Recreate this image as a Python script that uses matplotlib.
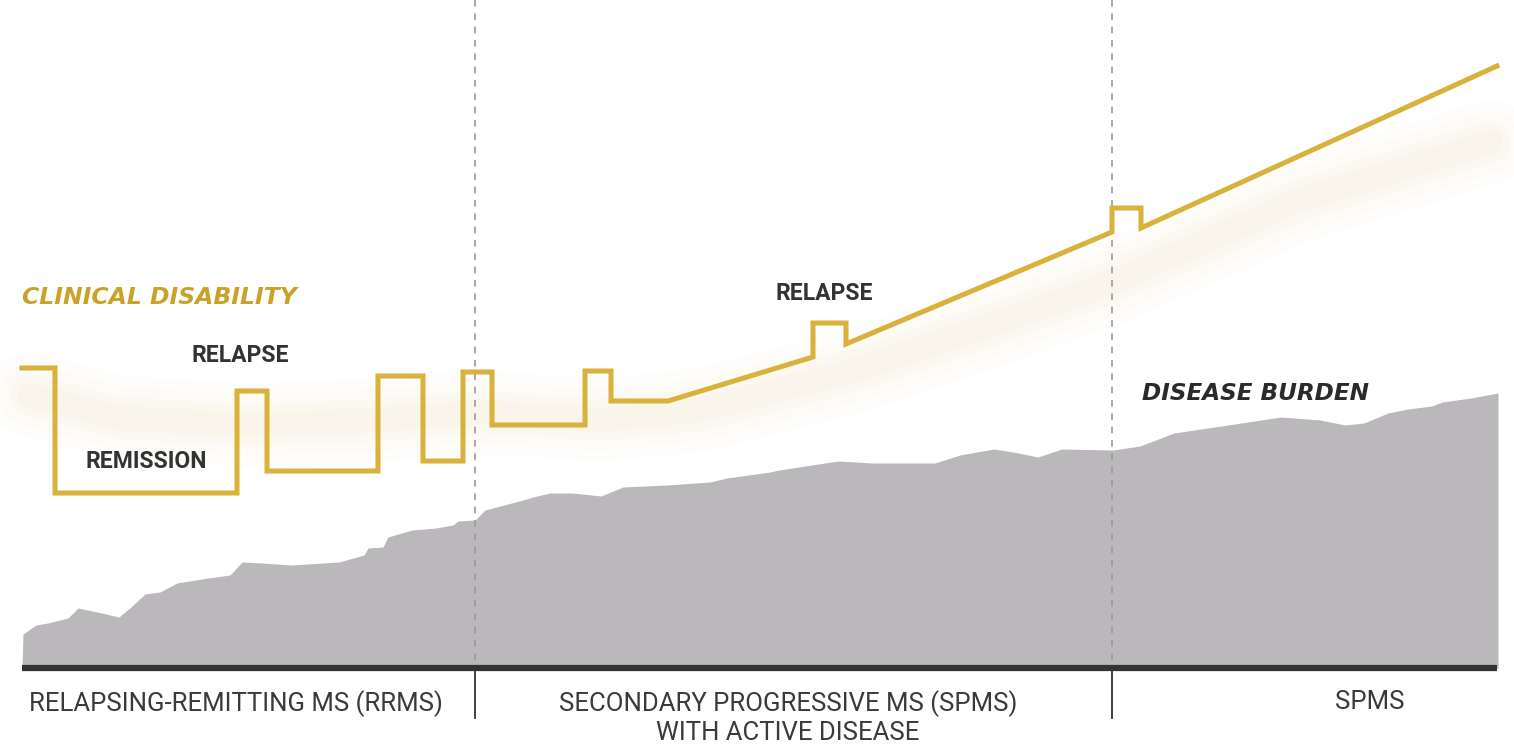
import matplotlib.pyplot as plt
import numpy as np

# everything is laid out in picture coordinates (x right, y down)
W, H = 1514, 746

# clinical disability line (step path)
line_x = [22, 55, 55, 237, 237, 267, 267, 378, 378, 423, 423, 463, 463, 492, 492,
          585, 585, 611, 611, 668, 813, 813, 846, 846, 1112, 1112, 1141, 1141, 1497]
line_y = [368, 368, 493, 493, 391, 391, 471, 471, 376, 376, 461, 461, 372, 372, 425,
          425, 371, 371, 401, 401, 357, 323, 323, 344, 232, 208, 208, 228, 66]

# soft glow under the line
glow_x = [30, 120, 250, 380, 480, 600, 700, 850, 1000, 1110, 1300, 1490]
glow_y = [395, 418, 425, 420, 412, 420, 410, 372, 322, 283, 200, 142]

# disease burden (grey area top edge)
burden_x = [22, 23, 36, 48, 68, 78, 97, 119, 131, 145, 160, 177, 208, 230, 242, 262,
            291, 339, 364, 368, 383, 388, 412, 436, 453, 458, 475, 485, 523, 533, 550,
            572, 601, 623, 667, 710, 727, 770, 779, 838, 872, 935, 960, 994, 1013,
            1038, 1062, 1113, 1140, 1174, 1228, 1281, 1320, 1345, 1364, 1388, 1408,
            1432, 1442, 1471, 1498]
burden_y = [668, 634, 625, 623, 618, 608, 612, 617, 607, 594, 592, 583, 578, 575, 562,
            563, 565, 562, 555, 548, 547, 537, 530, 528, 525, 521, 520, 510, 500, 497,
            493, 493, 496, 487, 485, 482, 478, 472, 470, 461, 463, 463, 455, 449, 452,
            457, 449, 450, 446, 433, 425, 417, 420, 425, 423, 413, 409, 406, 402, 398,
            393]
baseline_y = 668

phase_x = [475, 1112]
phase_labels = ["RELAPSING-REMITTING MS (RRMS)",
                "SECONDARY PROGRESSIVE MS (SPMS)\nWITH ACTIVE DISEASE",
                "SPMS"]
phase_label_x = [236, 788, 1370]

gold = "#D9B13B"
dark = "#333333"
narrow = ["Liberation Sans Narrow", "DejaVu Sans Condensed", "Roboto"]

fig = plt.figure(figsize=(W / 100, H / 100), dpi=100)
ax = fig.add_axes([0, 0, 1, 1])
ax.set_xlim(0, W)
ax.set_ylim(H, 0)
ax.axis("off")

# glow
for lw, a in [(60, 0.025), (44, 0.03), (30, 0.04), (18, 0.05)]:
    ax.plot(glow_x, glow_y, color="#E2C77A", lw=lw, alpha=a,
            solid_capstyle="round", solid_joinstyle="round", zorder=1)

# grey area
ax.fill_between(burden_x, burden_y, baseline_y, color="#BAB8BB", lw=0, zorder=2)

# phase dividers
for px in phase_x:
    ax.plot([px, px], [0, baseline_y], color="#9A9A9A", lw=1.2,
            ls=(0, (4, 4)), zorder=3)
    ax.plot([px, px], [baseline_y, 718], color=dark, lw=1.3, zorder=3)

ax.plot([22, 1497], [baseline_y, baseline_y], color=dark, lw=4.5,
        solid_capstyle="butt", zorder=4)

# disability line
ax.plot(line_x, line_y, color=gold, lw=3.6, solid_joinstyle="miter", zorder=5)

# labels
ax.text(22, 298, "CLINICAL DISABILITY", color="#C9A227", fontsize=16.9,
        fontweight="bold", fontstyle="italic", family="DejaVu Sans",
        ha="left", va="center")
ax.text(1142, 393, "DISEASE BURDEN", color="#2A2A2A", fontsize=16.7,
        fontweight="bold", fontstyle="italic", family="DejaVu Sans",
        ha="left", va="center")
ax.text(240, 355, "RELAPSE", color=dark, fontsize=16.5, fontweight="bold",
        family=narrow, ha="center", va="center")
ax.text(824, 294, "RELAPSE", color=dark, fontsize=16.5, fontweight="bold",
        family=narrow, ha="center", va="center")
ax.text(146, 462, "REMISSION", color=dark, fontsize=16.5, fontweight="bold",
        family=narrow, ha="center", va="center")

for lx, lab in zip(phase_label_x, phase_labels):
    ax.text(lx, 690, lab, color="#3A3A3A", fontsize=18.5, family=narrow,
            ha="center", va="top", linespacing=1.2)

fig.savefig("out.png", dpi=100, facecolor="white")
